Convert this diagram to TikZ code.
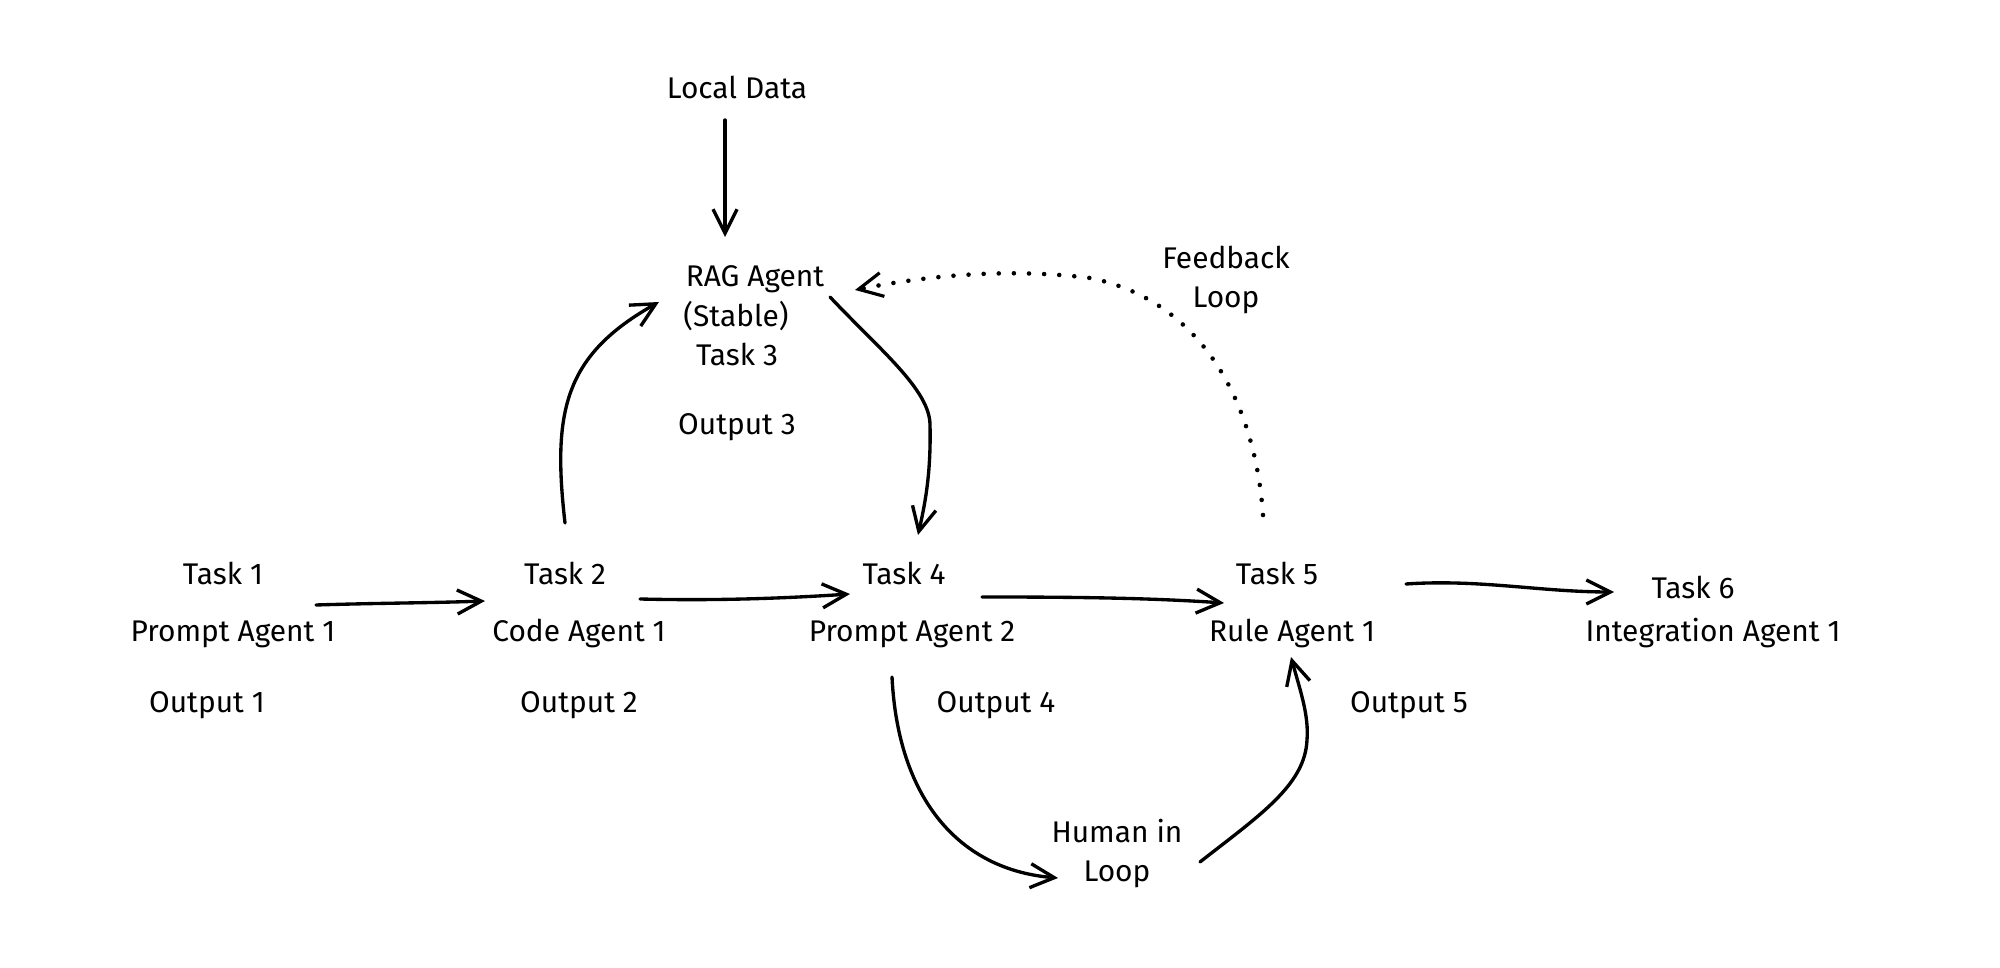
\documentclass[tikz,border=0pt]{standalone}
\usepackage{fontspec}
\setmainfont{Fira Sans}
\usetikzlibrary{arrows.meta}
\begin{document}
\begin{tikzpicture}[x=0.01cm,y=-0.01cm,
  lbl/.style={font=\fontsize{8.5pt}{10pt}\selectfont, inner sep=0pt, anchor=base},
  arr/.style={line width=0.95pt, line cap=round, line join=round,
    -{Straight Barb[length=2.4mm,width=2.4mm,line width=0.95pt]}},
  dotarr/.style={line width=1.3pt, line cap=round, dash pattern=on 0pt off 4.3pt,
    -{Straight Barb[length=2.4mm,width=2.4mm,line width=0.9pt]}}]
\useasboundingbox (0,0) rectangle (2000,968);

% texts
\node[lbl] (local) at (737,99) {Local Data};
\node[lbl] (rag) at (755,287) {RAG Agent};
\node[lbl] (stable) at (736,327) {(Stable)};
\node[lbl] (t3) at (737,366) {Task 3};
\node[lbl] (o3) at (737,435) {Output 3};
\node[lbl] (fb) at (1226,269) {Feedback};
\node[lbl] (fbl) at (1226,308) {Loop};

\node[lbl] (t1) at (223,585) {Task 1};
\node[lbl] (pa1) at (233,642) {Prompt Agent 1};
\node[lbl] (o1) at (207,713) {Output 1};

\node[lbl] (t2) at (565,585) {Task 2};
\node[lbl] (ca1) at (579,642) {Code Agent 1};
\node[lbl] (o2) at (579,713) {Output 2};

\node[lbl] (t4) at (904,585) {Task 4};
\node[lbl] (pa2) at (912,642) {Prompt Agent 2};
\node[lbl] (o4) at (996,713) {Output 4};

\node[lbl] (t5) at (1277,585) {Task 5};
\node[lbl] (ra1) at (1292,642) {Rule Agent 1};
\node[lbl] (o5) at (1409,713) {Output 5};

\node[lbl] (t6) at (1693,599) {Task 6};
\node[lbl] (ia1) at (1713,642) {Integration Agent 1};

\node[lbl] (hum) at (1117,843) {Human in};
\node[lbl] (huml) at (1117,882) {Loop};

% connector end points
\coordinate (ldS) at (725,120);  \coordinate (ldE) at (725,237);
\coordinate (a12S) at (316,605); \coordinate (a12E) at (485,601);
\coordinate (a24S) at (640,599); \coordinate (a24E) at (850,594);
\coordinate (a45S) at (982,597); \coordinate (a45E) at (1224,603);
\coordinate (a56S) at (1406,584); \coordinate (a56E) at (1614,592);
\coordinate (a2rS) at (565,523); \coordinate (a2rE) at (659,302);
\coordinate (ar4S) at (830,297); \coordinate (ar4M) at (930,425); \coordinate (ar4E) at (918,535);
\coordinate (fbS) at (1263,515); \coordinate (fbM) at (1090,278); \coordinate (fbE) at (855,290);
\coordinate (a4hS) at (892,677); \coordinate (a4hE) at (1058,878);
\coordinate (ah5S) at (1200,862); \coordinate (ah5M) at (1307,740); \coordinate (ah5E) at (1291,657);

% connectors
\draw[arr] (ldS) -- (ldE);
\draw[arr] (a12S) .. controls (380,603) and (430,603) .. (a12E);
\draw[arr] (a24S) .. controls (720,601) and (790,598) .. (a24E);
\draw[arr] (a45S) .. controls (1080,597) and (1150,598) .. (a45E);
\draw[arr] (a56S) .. controls (1480,579) and (1540,592) .. (a56E);
\draw[arr] (a2rS) .. controls (552,410) and (565,355) .. (a2rE);
\draw[arr] (ar4S) .. controls (880,350) and (930,390) .. (ar4M)
  .. controls (931,470) and (926,500) .. (ar4E);
\draw[dotarr] (fbS) .. controls (1255,400) and (1200,300) .. (fbM)
  .. controls (1010,268) and (930,275) .. (fbE);
\draw[arr] (a4hS) .. controls (898,800) and (960,870) .. (a4hE);
\draw[arr] (ah5S) .. controls (1260,815) and (1305,785) .. (ah5M)
  .. controls (1309,715) and (1300,690) .. (ah5E);
\end{tikzpicture}
\end{document}
